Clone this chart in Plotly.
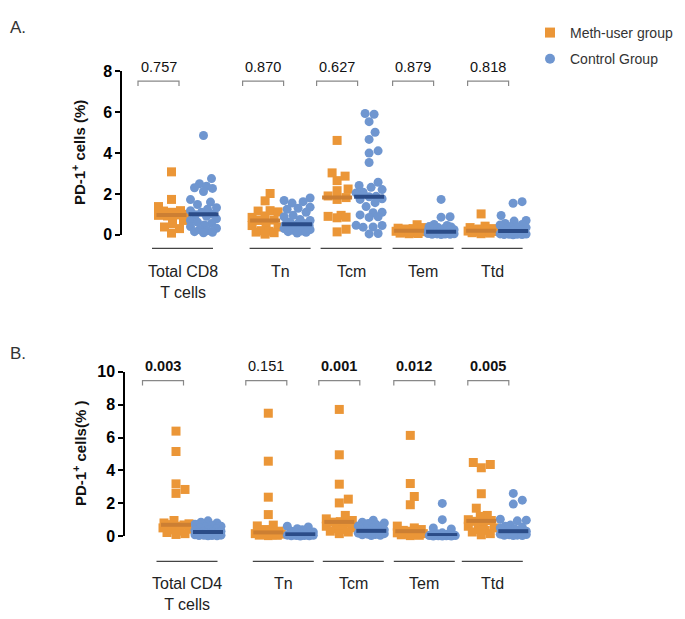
import numpy as np
import plotly.graph_objects as go

# ---------------- data ----------------
categories_A = ["Total CD8<br>T cells", "Tn", "Tcm", "Tem", "Ttd"]
categories_B = ["Total CD4<br>T cells", "Tn", "Tcm", "Tem", "Ttd"]
pvalues_A = ["0.757", "0.870", "0.627", "0.879", "0.818"]
pvalues_B = ["0.003", "0.151", "0.001", "0.012", "0.005"]
bold_B = [True, False, True, True, True]
yticks_A = [0, 2, 4, 6, 8]
yticks_B = [0, 2, 4, 6, 8, 10]

meth_A = [
    [3.08, 1.73, 1.38, 1.18, 1.16, 1.1, 1.0, 0.97, 0.95, 0.92, 0.7, 0.55, 0.38, 0.3, 0.08],
    [2.02, 1.66, 1.18, 1.16, 1.12, 0.92, 0.85, 0.72, 0.7, 0.55, 0.45, 0.38, 0.2, 0.17, 0.13, 0.1, 0.03],
    [4.62, 3.03, 2.87, 2.65, 2.24, 2.16, 1.9, 1.82, 1.73, 0.95, 0.9, 0.86, 0.83, 0.27, 0.14],
    [0.49, 0.35, 0.32, 0.3, 0.28, 0.25, 0.22, 0.2, 0.19, 0.17, 0.15, 0.12, 0.1, 0.08, 0.06, 0.05],
    [1.02, 0.42, 0.35, 0.3, 0.28, 0.25, 0.22, 0.2, 0.18, 0.16, 0.14, 0.12, 0.1, 0.08, 0.05],
]
ctrl_A = [
    [4.86, 2.75, 2.5, 2.38, 2.3, 2.27, 2.12, 1.72, 1.6, 1.48, 1.32, 1.25, 1.18, 1.1, 1.0, 0.98,
     0.9, 0.78, 0.7, 0.62, 0.55, 0.48, 0.4, 0.32, 0.25, 0.2, 0.15, 0.12, 0.1],
    [1.8, 1.68, 1.62, 1.55, 1.35, 1.3, 1.25, 1.1, 0.95, 0.88, 0.75, 0.7, 0.62, 0.55, 0.51,
     0.48, 0.45, 0.42, 0.4, 0.38, 0.35, 0.32, 0.3, 0.25, 0.22, 0.18, 0.15, 0.12, 0.08],
    [5.94, 5.9, 5.54, 5.02, 4.67, 4.11, 4.0, 3.54, 2.57, 2.41, 2.32, 2.21, 2.08, 2.05, 1.88,
     1.86, 1.76, 1.73, 1.57, 1.38, 1.1, 1.08, 0.97, 0.88, 0.85, 0.46, 0.45, 0.38, 0.37, 0.06, 0.04],
    [1.73, 0.88, 0.86, 0.5, 0.45, 0.4, 0.38, 0.35, 0.3, 0.28, 0.25, 0.22, 0.2, 0.18, 0.15,
     0.14, 0.13, 0.12, 0.1, 0.09, 0.08, 0.07, 0.06, 0.05, 0.04, 0.03, 0.02, 0.02, 0.01],
    [1.62, 1.54, 0.94, 0.7, 0.67, 0.55, 0.5, 0.48, 0.4, 0.38, 0.35, 0.3, 0.25, 0.22, 0.18,
     0.15, 0.12, 0.1, 0.08, 0.07, 0.06, 0.05, 0.04, 0.03, 0.02, 0.02, 0.01, 0.01, 0.0],
]
meth_B = [
    [6.39, 5.15, 3.18, 2.84, 2.6, 0.95, 0.8, 0.75, 0.7, 0.68, 0.6, 0.5, 0.42, 0.38, 0.3, 0.22, 0.15, 0.1],
    [7.48, 4.56, 2.37, 1.31, 0.67, 0.62, 0.4, 0.3, 0.25, 0.2, 0.18, 0.15, 0.12, 0.1, 0.08, 0.06, 0.05, 0.03],
    [7.71, 4.95, 3.16, 2.25, 2.02, 1.26, 1.05, 0.95, 0.88, 0.85, 0.8, 0.6, 0.5, 0.45, 0.4, 0.3, 0.25, 0.15],
    [6.13, 3.2, 2.41, 1.91, 0.61, 0.5, 0.4, 0.35, 0.3, 0.25, 0.2, 0.15, 0.12, 0.1, 0.08, 0.05, 0.03],
    [4.48, 4.36, 4.16, 2.58, 1.7, 1.26, 1.2, 1.0, 0.95, 0.9, 0.8, 0.6, 0.5, 0.4, 0.35, 0.25, 0.15, 0.08],
]
ctrl_B = [
    [0.93, 0.85, 0.8, 0.72, 0.65, 0.6, 0.55, 0.5, 0.45, 0.4, 0.35, 0.3, 0.28, 0.25, 0.22,
     0.2, 0.18, 0.15, 0.12, 0.1, 0.08, 0.06, 0.05, 0.04, 0.03, 0.02, 0.02],
    [0.6, 0.56, 0.45, 0.38, 0.3, 0.25, 0.2, 0.18, 0.15, 0.13, 0.12, 0.11, 0.1, 0.09, 0.08,
     0.07, 0.06, 0.05, 0.04, 0.03, 0.02, 0.02, 0.01],
    [0.97, 0.85, 0.8, 0.77, 0.7, 0.62, 0.55, 0.5, 0.45, 0.4, 0.38, 0.35, 0.32, 0.3, 0.28,
     0.25, 0.22, 0.2, 0.18, 0.15, 0.12, 0.1, 0.08, 0.05, 0.03],
    [1.99, 1.0, 0.5, 0.43, 0.2, 0.15, 0.12, 0.1, 0.08, 0.07, 0.06, 0.05, 0.04, 0.03, 0.03,
     0.02, 0.02, 0.01, 0.01, 0.01],
    [2.6, 2.19, 1.95, 1.03, 0.97, 0.93, 0.67, 0.6, 0.55, 0.5, 0.45, 0.4, 0.35, 0.3, 0.28,
     0.25, 0.22, 0.2, 0.18, 0.15, 0.12, 0.1, 0.08, 0.06, 0.05, 0.04, 0.03],
]

# ---------------- style / layout ----------------
PAGE_W, PAGE_H = 685, 619
BODY_MARGIN = 8                      # default browser body margin
W, H = PAGE_W - BODY_MARGIN, PAGE_H - BODY_MARGIN
FONT = "Liberation Sans, Arial, Helvetica, sans-serif"
ORANGE = "#EB9637"
BLUE = "#6F96D0"
ORANGE_MED = "#CC7F33"
BLUE_MED = "#2B4C88"
cat_pos = [0, 1.3, 2.3, 3.3, 4.3]
grp_off_px = 16
bracket_shift_px = [-13, -2, 0, 4, 7]
under_shift_px = [-5, -1, -2, -2, -5]


def PX(xp):  # page pixel -> paper x
    return (xp - BODY_MARGIN) / W


def PY(yp):  # page pixel -> paper y
    return 1 - (yp - BODY_MARGIN) / H


panels = [
    dict(cats=categories_A, pv=pvalues_A, bold=[False] * 5, meth=meth_A, ctrl=ctrl_A,
         x0px=187.5, ppx=72, axis_px=122, ytop_px=65, ybot_px=233, ymax=8, ticks=yticks_A,
         xa="x", ya="y", under_px=247, label_px=260, br_px=75, pv_px=60,
         title="PD-1<sup>+</sup> cells (%)", title_x=78, letter="A.", letter_y=8),
    dict(cats=categories_B, pv=pvalues_B, bold=bold_B, meth=meth_B, ctrl=ctrl_B,
         x0px=192, ppx=71, axis_px=125, ytop_px=374, ybot_px=543, ymax=10, ticks=yticks_B,
         xa="x2", ya="y2", under_px=569, label_px=581, br_px=383, pv_px=368,
         title="PD-1<sup>+</sup> cells(% )", title_x=80, letter="B.", letter_y=343),
]


def swarm(values, ppx, ppy, diam=9.0, maxoff=13.0):
    vals = np.asarray(values, dtype=float)
    order = np.argsort(vals)
    cands = [0.0]
    for k in np.arange(1.0, maxoff + 0.01, 1.0):
        cands += [k, -k]
    placed = []
    off = np.zeros(len(vals))
    for i in order:
        y = vals[i] * ppy
        chosen, best_c, best_d = None, 0.0, -1.0
        for c in cands:
            if not placed:
                chosen = c
                break
            d = min(np.hypot(c - px, y - py) for px, py in placed)
            if d >= diam:
                chosen = c
                break
            if d > best_d:
                best_d, best_c = d, c
        if chosen is None:
            chosen = best_c
        placed.append((chosen, y))
        off[i] = chosen
    return off / ppx


fig = go.Figure()
shapes, annotations = [], []

for p in panels:
    ppy = (p["ybot_px"] - p["ytop_px"]) / p["ymax"]
    ppx = p["ppx"]
    off = grp_off_px / ppx
    half_med = 15 / ppx
    for ci, pos in enumerate(cat_pos):
        for vals, sign, sym, col in [
            (p["meth"][ci], -1, "square", ORANGE),
            (p["ctrl"][ci], 1, "circle", BLUE),
        ]:
            cx = pos + sign * off
            xs = cx + swarm(vals, ppx, ppy)
            fig.add_trace(go.Scatter(
                x=xs, y=vals, mode="markers", xaxis=p["xa"], yaxis=p["ya"],
                marker=dict(symbol=sym, size=9, color=col, line=dict(width=0)),
                showlegend=False, cliponaxis=False, hoverinfo="y"))
        for vals, sign, mcol in [(p["meth"][ci], -1, ORANGE_MED), (p["ctrl"][ci], 1, BLUE_MED)]:
            cx = pos + sign * off
            med = float(np.median(vals))
            fig.add_trace(go.Scatter(
                x=[cx - half_med, cx + half_med], y=[med, med], mode="lines",
                xaxis=p["xa"], yaxis=p["ya"], line=dict(color=mcol, width=4),
                showlegend=False, cliponaxis=False, hoverinfo="skip"))
        # category underline + label
        uc = pos + under_shift_px[ci] / ppx
        uy = PY(p["under_px"])
        shapes.append(dict(type="line", xref=p["xa"], yref="paper",
                           x0=uc - 30.5 / ppx, x1=uc + 30.5 / ppx, y0=uy, y1=uy,
                           line=dict(color="#444444", width=1.3)))
        annotations.append(dict(xref=p["xa"], yref="paper", x=uc, y=PY(p["label_px"]),
                                text=p["cats"][ci], showarrow=False, yanchor="top",
                                font=dict(family=FONT, size=16, color="#222222")))
        # p-value bracket
        bc = pos - off + bracket_shift_px[ci] / ppx
        bw = 20.5 / ppx
        by = PY(p["br_px"])
        by2 = PY(p["br_px"] + 5)
        shapes.append(dict(type="path", xref=p["xa"], yref="paper",
                           path=f"M {bc - bw} {by2} L {bc - bw} {by} L {bc + bw} {by} L {bc + bw} {by2}",
                           line=dict(color="#888888", width=1.2)))
        txt = p["pv"][ci]
        if p["bold"][ci]:
            txt = f"<b>{txt}</b>"
        annotations.append(dict(xref=p["xa"], yref="paper", x=bc, y=PY(p["pv_px"]),
                                text=txt, showarrow=False, yanchor="middle",
                                font=dict(family=FONT, size=14.5, color="#111111")))
    # axis title
    annotations.append(dict(xref="paper", yref="paper", x=PX(p["title_x"]),
                            y=PY((p["ytop_px"] + p["ybot_px"]) / 2),
                            text=f"<b>{p['title']}</b>", textangle=-90, showarrow=False,
                            xanchor="center", yanchor="middle",
                            font=dict(family=FONT, size=15, color="#111111")))
    annotations.append(dict(xref="paper", yref="paper", x=PX(8), y=PY(p["letter_y"]),
                            text=p["letter"], showarrow=False, xanchor="left", yanchor="top",
                            font=dict(family=FONT, size=17, color="#333333")))

# legend entries
fig.add_trace(go.Scatter(x=[None], y=[None], mode="markers", name="Meth-user group",
                         marker=dict(symbol="square", size=10, color=ORANGE), legendgroup="a"))
fig.add_trace(go.Scatter(x=[None], y=[None], mode="markers", name="Control Group",
                         marker=dict(symbol="circle", size=10, color=BLUE), legendgroup="b"))


def xaxis_cfg(p):
    return dict(domain=[PX(p["axis_px"]), PX(540)],
                range=[(p["axis_px"] - p["x0px"]) / p["ppx"], (540 - p["x0px"]) / p["ppx"]],
                visible=False, anchor=p["ya"])


def yaxis_cfg(p):
    return dict(domain=[PY(p["ybot_px"]), PY(p["ytop_px"])], range=[0, p["ymax"]],
                tickvals=p["ticks"], showgrid=False, zeroline=False, showline=True,
                linecolor="black", linewidth=1.5, ticks="outside", ticklen=5, tickwidth=1.5,
                tickcolor="black", anchor=p["xa"],
                tickfont=dict(family=FONT, size=16, color="black", weight="bold"))


fig.update_layout(
    width=W, height=H, margin=dict(l=0, r=0, t=0, b=0),
    paper_bgcolor="white", plot_bgcolor="white",
    xaxis=xaxis_cfg(panels[0]), yaxis=yaxis_cfg(panels[0]),
    xaxis2=xaxis_cfg(panels[1]), yaxis2=yaxis_cfg(panels[1]),
    shapes=shapes, annotations=annotations,
    legend=dict(x=PX(530), y=PY(9), xanchor="left", yanchor="top",
                font=dict(family=FONT, size=14, color="#333333"),
                traceorder="grouped", tracegroupgap=5, bgcolor="rgba(0,0,0,0)"),
    showlegend=True,
)

fig.write_html("out.html")
